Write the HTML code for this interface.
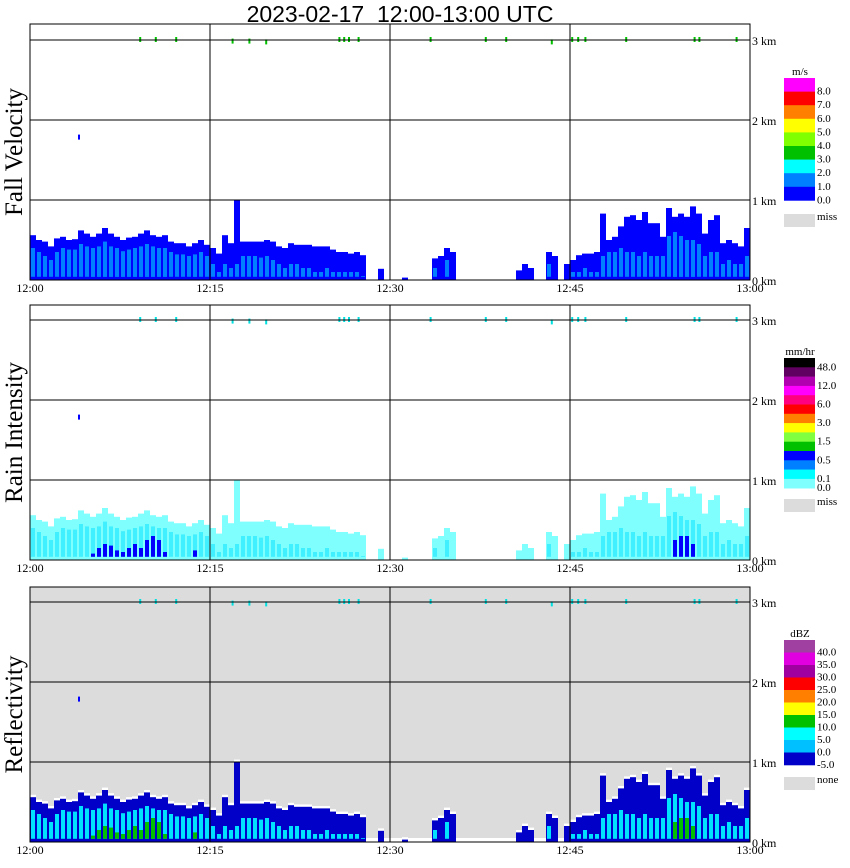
<!DOCTYPE html>
<html><head><meta charset="utf-8"><style>
body{margin:0;background:#fff;width:850px;height:868px;overflow:hidden;font-family:"Liberation Serif",serif;}
svg{display:block}
</style></head><body>
<svg id="chart" width="850" height="868" xmlns="http://www.w3.org/2000/svg">
<text x="400" y="22" text-anchor="middle" font-family="Liberation Sans, sans-serif" font-size="23" style="white-space:pre">2023-02-17  12:00-13:00 UTC</text>
</svg>
<script>
// time axis: columns every 0.5 min (120 columns, 12:00-13:00)
const tops = [.56,.5,.48,.42,.52,.54,.5,.51,.62,.58,
.54,.58,.65,.58,.54,.5,.53,.54,.58,.62,
.56,.54,.56,.48,.46,.46,.42,.46,.5,.44,
.4,.33,.56,.46,1.0,.48,.48,.48,.48,.5,
.48,.42,.4,.46,.44,.44,.44,.42,.42,.42,
.38,.35,.35,.33,.35,.31,0,0,.14,0,
0,0,.03,0,0,0,0,.27,.3,.4,
.35,0,0,0,0,0,0,0,0,0,
0,.12,.2,.15,0,0,.35,.3,0,.2,
.25,.31,.33,.33,.35,.83,.5,.54,.67,.79,
.81,.75,.85,.71,.71,.54,.9,.79,.83,.79,
.92,.83,.58,.75,.81,.46,.5,.46,.42,.65];
const cores = [.4,.35,.3,.25,.35,.4,.38,.38,.45,.42,
.4,.42,.48,.42,.4,.36,.38,.4,.42,.45,
.42,.4,.4,.35,.32,.32,.3,.32,.35,.3,
.2,.1,.2,.15,.2,.3,.3,.3,.28,.3,
.25,.2,.15,.2,.2,.15,.15,.1,.1,.15,
.1,.1,.1,.1,.1,.05,0,0,0,0,
0,0,0,0,0,0,0,.15,0,.25,
0,0,0,0,0,0,0,0,0,0,
0,0,0,0,0,0,.2,0,0,0,
.1,.1,.15,.1,.1,.3,.35,.35,.4,.35,
.35,.3,.35,.3,.3,.3,.55,.6,.55,.5,
.5,.45,.3,.35,.35,.2,.25,.2,.2,.3];
const peaks = [0,0,0,0,0,0,0,0,0,0,
.08,.15,.2,.18,.12,.1,.15,.2,.15,.25,
.3,.25,.1,0,0,0,0,.12,0,0,
0,0,0,0,0,0,0,0,0,0,0,0,0,0,0,0,0,0,0,0,
0,0,0,0,0,0,0,0,0,0,0,0,0,0,0,0,0,0,0,0,
0,0,0,0,0,0,0,0,0,0,0,0,0,0,0,0,0,0,0,0,
0,0,0,0,0,0,0,0,0,0,0,0,0,0,0,0,0,.25,.3,.3,
.2,0,0,0,0,0,0,0,0,0];
// high-level specks near 3 km (minutes after 12:00, km)
const speckTimes = [9.1,10.4,12.1,16.8,18.2,19.6,25.7,26.1,26.5,27.3,33.3,37.9,39.6,43.4,45.1,45.6,46.2,49.6,55.3,55.7,58.8,4.0];
const speckKm = [3.0,3.0,3.0,2.98,2.98,2.97,3.0,3.0,3.0,3.0,3.0,3.0,3.0,2.97,3.0,3.0,3.0,3.0,3.0,3.0,3.0,1.78];
const timeLabels = ["12:00","12:15","12:30","12:45","13:00"];
const kmLabels = ["0 km","1 km","2 km","3 km"];

const NS="http://www.w3.org/2000/svg";
const svg=document.getElementById('chart');
function el(tag,attrs,parent){const e=document.createElementNS(NS,tag);for(const k in attrs)e.setAttribute(k,attrs[k]);(parent||svg).appendChild(e);return e;}
const X0=30,X1=750;
function xs(min){return X0+min*12;}

const panels=[
 {name:'fall-velocity',title:'Fall Velocity',top:24,base:280,bg:'#fff',outer:'#0000ff',core:'#0080ff',peak:'#0080ff',speck:'#00c000',white:false,
  legend:{unit:'m/s',y:78,h:13.6,colors:['#ff00ff','#ff0000','#ff8000','#ffff00','#80ff00','#00c000','#00ffff','#0080ff','#0000ff'],labels:['8.0','7.0','6.0','5.0','4.0','3.0','2.0','1.0','0.0'],miss:'miss',missY:214}},
 {name:'rain-intensity',title:'Rain Intensity',top:305,base:560,bg:'#fff',outer:'#80ffff',core:'#40f0ff',peak:'#0000ff',speck:'#00e0e0',white:false,
  legend:{unit:'mm/hr',y:358,h:9.3,colors:['#000000','#600060','#b000b0','#ff00ff','#ff0080','#ff0000','#ff8000','#ffff00','#80ff40','#00c000','#0000ff','#0080ff','#00ffff','#80ffff'],labels:['48.0','','12.0','','6.0','','3.0','','1.5','','0.5','','0.1','0.0'],miss:'miss',missY:499}},
 {name:'reflectivity',title:'Reflectivity',top:587,base:842,bg:'#dcdcdc',outer:'#0000c8',core:'#00e0ff',peak:'#00c000',speck:'#00e0e0',white:true,
  legend:{unit:'dBZ',y:640,h:12.5,colors:['#a040a0','#e000e0','#a000a0','#ff0000','#ff8000','#ffff00','#00c000','#00ffff','#00c0ff','#0000c8'],labels:['40.0','35.0','30.0','25.0','20.0','15.0','10.0','5.0','0.0','-5.0'],miss:'none',missY:777}}
];

panels.forEach(p=>{
  const g=el('g',{});
  
  
  const ys=km=>p.base-km*80;
  const bg=el('rect',{x:X0,y:p.top,width:X1-X0,height:p.base-p.top,fill:p.bg},g);
  
  
  const cw=6;
  tops.forEach((t,i)=>{
    const x=xs(i*0.5);
    if(p.white){
      const wt=t>0?t+0.03:0.05;
      const w=el('rect',{x:x,y:ys(wt),width:cw,height:wt*80,fill:'#fff'},g);
      
      
    }
    if(t>0){
      const r=el('rect',{x:x,y:ys(t),width:cw,height:t*80,fill:p.outer},g);
      
      
    }
    if(cores[i]>0){
      const c=el('rect',{x:x+1,y:ys(cores[i]),width:cw-2,height:(cores[i]-0.04)*80,fill:p.core},g);
      
      
    }
    if(peaks[i]>0){
      const k=el('rect',{x:x+1,y:ys(peaks[i]),width:cw-2,height:(peaks[i]-0.04)*80,fill:p.peak},g);
      
      
    }
  });
  speckTimes.forEach((t,i)=>{
    const s=el('rect',{x:xs(t),y:ys(speckKm[i])-3,width:2,height:5,fill:i==21?'#0000ff':p.speck},g);
    
    
  });
  [1,2,3].forEach(k=>{
    const l=el('line',{x1:X0,x2:X1,y1:ys(k),y2:ys(k),stroke:'#000','stroke-width':1},g);
    
    
  });
  [15,30,45].forEach(m=>{
    const l=el('line',{x1:xs(m),x2:xs(m),y1:p.top,y2:p.base,stroke:'#000','stroke-width':1},g);
    
    
  });
  const fr=el('rect',{x:X0,y:p.top,width:X1-X0,height:p.base-p.top,fill:'none',stroke:'#000','stroke-width':1},g);
  
  
  kmLabels.forEach((s,k)=>{
    const t=el('text',{x:752,y:ys(k)+5,'font-size':12},g);t.textContent=s;
    
    
  });
  timeLabels.forEach((s,k)=>{
    const t=el('text',{x:xs(k*15),y:p.base+12,'font-size':12,'text-anchor':'middle'},g);t.textContent=s;
    
    
  });
  const ty=(p.top+p.base)/2;
  const tt=el('text',{x:22,y:ty,'font-size':25,'text-anchor':'middle',transform:'rotate(-90 22 '+ty+')'},g);
  tt.textContent=p.title;
  
  
  const L=p.legend;
  const lg=el('g',{},g);
  
  
  const ut=el('text',{x:800,y:L.y-3,'font-size':11,'text-anchor':'middle'},lg);ut.textContent=L.unit;
  
  
  L.colors.forEach((c,i)=>{
    const r=el('rect',{x:784,y:L.y+i*L.h,width:31,height:L.h+0.3,fill:c},lg);
    
    
    if(L.labels[i]){
      const t=el('text',{x:817,y:L.y+(i+1)*L.h+3,'font-size':11},lg);t.textContent=L.labels[i];
      
      
    }
  });
  const mr=el('rect',{x:784,y:L.missY,width:31,height:13,fill:'#dcdcdc'},lg);
  
  
  const mt=el('text',{x:817,y:L.missY+6,'font-size':11},lg);mt.textContent=L.miss;
  
  
});
</script>
</body></html>
